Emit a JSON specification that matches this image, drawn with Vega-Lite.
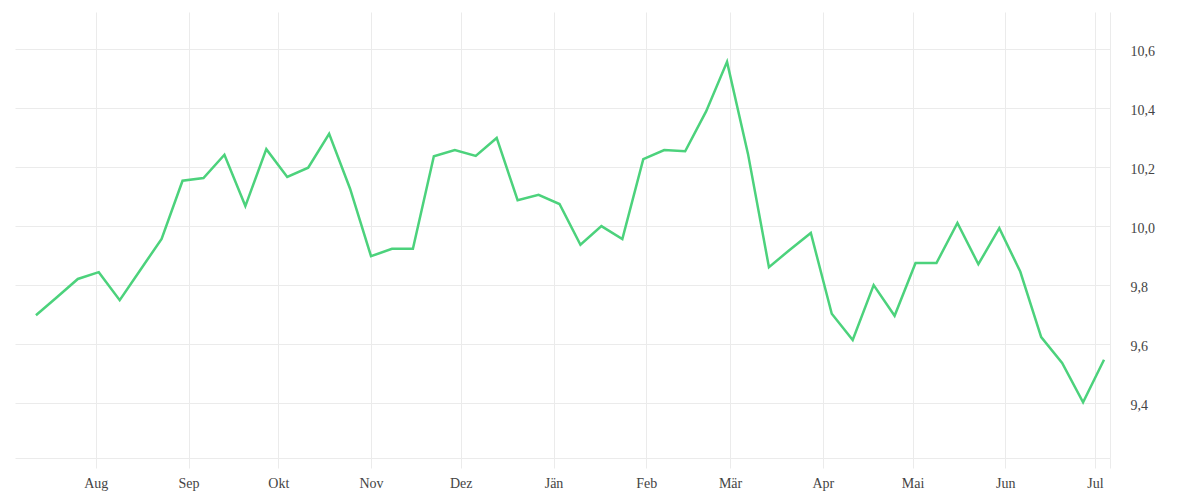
{
  "$schema": "https://vega.github.io/schema/vega-lite/v6.json",
  "width": 1095,
  "height": 446,
  "autosize": {"type": "none"},
  "padding": {"left": 15, "top": 12, "right": 90, "bottom": 42},
  "background": "white",
  "data": {
    "values": [
      {"date": "2022-07-12T00:00:00", "value": 9.698},
      {"date": "2022-07-19T00:00:00", "value": 9.759},
      {"date": "2022-07-26T00:00:00", "value": 9.821},
      {"date": "2022-08-02T00:00:00", "value": 9.844},
      {"date": "2022-08-09T00:00:00", "value": 9.749},
      {"date": "2022-08-16T00:00:00", "value": 9.853},
      {"date": "2022-08-23T00:00:00", "value": 9.957},
      {"date": "2022-08-30T00:00:00", "value": 10.154},
      {"date": "2022-09-06T00:00:00", "value": 10.163},
      {"date": "2022-09-13T00:00:00", "value": 10.242},
      {"date": "2022-09-20T00:00:00", "value": 10.068},
      {"date": "2022-09-27T00:00:00", "value": 10.261},
      {"date": "2022-10-04T00:00:00", "value": 10.167},
      {"date": "2022-10-11T00:00:00", "value": 10.198},
      {"date": "2022-10-18T00:00:00", "value": 10.313},
      {"date": "2022-10-25T00:00:00", "value": 10.127},
      {"date": "2022-11-01T00:00:00", "value": 9.898},
      {"date": "2022-11-08T00:00:00", "value": 9.923},
      {"date": "2022-11-15T00:00:00", "value": 9.923},
      {"date": "2022-11-22T00:00:00", "value": 10.237},
      {"date": "2022-11-29T00:00:00", "value": 10.258},
      {"date": "2022-12-06T00:00:00", "value": 10.238},
      {"date": "2022-12-13T00:00:00", "value": 10.299},
      {"date": "2022-12-20T00:00:00", "value": 10.088},
      {"date": "2022-12-27T00:00:00", "value": 10.106},
      {"date": "2023-01-03T00:00:00", "value": 10.075},
      {"date": "2023-01-10T00:00:00", "value": 9.937},
      {"date": "2023-01-17T00:00:00", "value": 10.0},
      {"date": "2023-01-24T00:00:00", "value": 9.956},
      {"date": "2023-01-31T00:00:00", "value": 10.227},
      {"date": "2023-02-07T00:00:00", "value": 10.258},
      {"date": "2023-02-14T00:00:00", "value": 10.254},
      {"date": "2023-02-21T00:00:00", "value": 10.389},
      {"date": "2023-02-28T00:00:00", "value": 10.557},
      {"date": "2023-03-07T00:00:00", "value": 10.245},
      {"date": "2023-03-14T00:00:00", "value": 9.861},
      {"date": "2023-03-21T00:00:00", "value": 9.92},
      {"date": "2023-03-28T00:00:00", "value": 9.977},
      {"date": "2023-04-04T00:00:00", "value": 9.703},
      {"date": "2023-04-11T00:00:00", "value": 9.614},
      {"date": "2023-04-18T00:00:00", "value": 9.8},
      {"date": "2023-04-25T00:00:00", "value": 9.696},
      {"date": "2023-05-02T00:00:00", "value": 9.875},
      {"date": "2023-05-09T00:00:00", "value": 9.875},
      {"date": "2023-05-16T00:00:00", "value": 10.011},
      {"date": "2023-05-23T00:00:00", "value": 9.871},
      {"date": "2023-05-30T00:00:00", "value": 9.993},
      {"date": "2023-06-06T00:00:00", "value": 9.846},
      {"date": "2023-06-13T00:00:00", "value": 9.624},
      {"date": "2023-06-20T00:00:00", "value": 9.536},
      {"date": "2023-06-27T00:00:00", "value": 9.403},
      {"date": "2023-07-04T00:00:00", "value": 9.547}
    ]
  },
  "mark": {"type": "line", "color": "#4cd27c", "strokeWidth": 2.5},
  "encoding": {
    "x": {
      "field": "date",
      "type": "temporal",
      "scale": {
        "domain": [
          {"year": 2022, "month": 7, "date": 5},
          {"year": 2023, "month": 7, "date": 6}
        ]
      },
      "axis": {
        "orient": "bottom",
        "title": null,
        "values": [
          {"year": 2022, "month": 8, "date": 1},
          {"year": 2022, "month": 9, "date": 1},
          {"year": 2022, "month": 10, "date": 1},
          {"year": 2022, "month": 11, "date": 1},
          {"year": 2022, "month": 12, "date": 1},
          {"year": 2023, "month": 1, "date": 1},
          {"year": 2023, "month": 2, "date": 1},
          {"year": 2023, "month": 3, "date": 1},
          {"year": 2023, "month": 4, "date": 1},
          {"year": 2023, "month": 5, "date": 1},
          {"year": 2023, "month": 6, "date": 1},
          {"year": 2023, "month": 7, "date": 1},
          {"year": 2023, "month": 7, "date": 6}
        ],
        "labelExpr": "date(datum.value) == 1 ? ['Jän','Feb','Mär','Apr','Mai','Jun','Jul','Aug','Sep','Okt','Nov','Dez'][month(datum.value)] : ''",
        "grid": true,
        "gridColor": "#ebebeb",
        "domain": true,
        "domainColor": "#ebebeb",
        "ticks": true,
        "tickColor": "#ebebeb",
        "tickSize": 10,
        "labelPadding": 8,
        "labelFlush": false,
        "labelOverlap": false
      }
    },
    "y": {
      "field": "value",
      "type": "quantitative",
      "scale": {"domain": [9.214, 10.726], "nice": false, "zero": false},
      "axis": {
        "orient": "right",
        "title": null,
        "values": [9.4, 9.6, 9.8, 10.0, 10.2, 10.4, 10.6],
        "labelExpr": "replace(format(datum.value, '.1f'), '.', ',')",
        "grid": true,
        "gridColor": "#ebebeb",
        "domain": false,
        "ticks": false,
        "labelPadding": 20,
        "labelOffset": 2,
        "labelAlign": "left"
      }
    }
  },
  "config": {
    "view": {"stroke": null},
    "axis": {
      "labelFont": "Liberation Serif",
      "labelFontSize": 14,
      "labelColor": "#444444"
    }
  }
}
